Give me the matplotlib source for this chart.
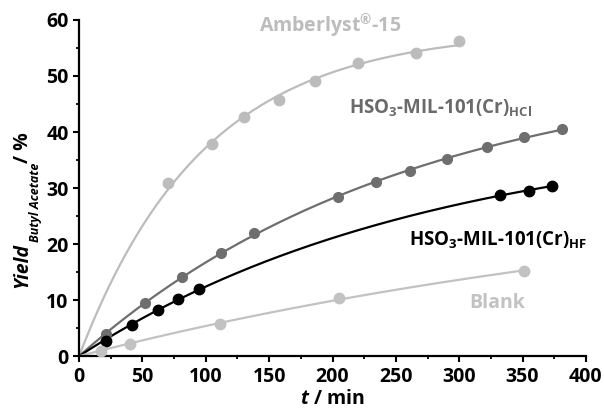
import numpy as np
import matplotlib.pyplot as plt
from matplotlib.ticker import MultipleLocator

plt.rcParams['font.family'] = ['Open Sans', 'DejaVu Sans']
plt.rcParams['font.weight'] = 'bold'
plt.rcParams['axes.labelweight'] = 'bold'
plt.rcParams['mathtext.fontset'] = 'custom'
plt.rcParams['mathtext.rm'] = 'Open Sans:bold'
plt.rcParams['mathtext.bf'] = 'Open Sans:bold'
plt.rcParams['mathtext.it'] = 'Open Sans:italic:bold'

# Data (time in min, yield in %)
t_amb = [70, 105, 130, 158, 186, 220, 266, 300]
y_amb = [30.9, 37.9, 42.7, 45.7, 49.1, 52.3, 54.1, 56.3]

t_hcl = [21, 52, 81, 112, 138, 204, 234, 261, 290, 322, 351, 381]
y_hcl = [3.9, 9.4, 14.1, 18.4, 22.0, 28.4, 31.0, 33.0, 35.2, 37.3, 39.1, 40.5]

t_hf = [21, 42, 62, 78, 95, 332, 355, 373]
y_hf = [2.7, 5.5, 8.2, 10.2, 12.0, 28.7, 29.5, 30.4]

t_blank = [17, 40, 111, 205, 351]
y_blank = [0.9, 2.1, 5.7, 10.4, 15.2]

c_amb = '#bcbcbc'
c_hcl = '#6e6e6e'
c_hf = '#000000'
c_blank = '#c2c2c2'


# first-order kinetic fit y = A(1 - exp(-k t)) through the origin
def fit_curve(t, y):
    t = np.asarray(t, float)
    y = np.asarray(y, float)
    best = None
    for k in np.logspace(-5, -0.5, 4000):
        f = 1 - np.exp(-k * t)
        A = f.dot(y) / f.dot(f)
        r = np.sum((A * f - y) ** 2)
        if best is None or r < best[0]:
            best = (r, A, k)
    _, A, k = best
    tt = np.linspace(0, t.max(), 300)
    return tt, A * (1 - np.exp(-k * tt))


W, H = 604, 416
fig = plt.figure(figsize=(W / 100, H / 100), dpi=100)
ax = fig.add_axes([0.131, 0.144, 0.839, 0.808])

for t, y, c, ms in [(t_amb, y_amb, c_amb, 7.5), (t_hcl, y_hcl, c_hcl, 7),
                    (t_hf, y_hf, c_hf, 7.5), (t_blank, y_blank, c_blank, 7.5)]:
    tt, yy = fit_curve(t, y)
    ax.plot(tt, yy, color=c, lw=1.6, zorder=2)
    ax.plot(t, y, 'o', color=c, ms=ms, zorder=3)

ax.text(198, 59, r'Amberlyst$^{®}$-15', color=c_amb, fontsize=14, ha='center', va='center')
ax.text(213, 44.3, r'HSO$_3$-MIL-101(Cr)$_{\mathrm{HCl}}$', color='#6a6a6a', fontsize=13.5,
        ha='left', va='center')
ax.text(260, 20.7, r'HSO$_3$-MIL-101(Cr)$_{\mathrm{HF}}$', color='black', fontsize=13.5,
        ha='left', va='center')
ax.text(308, 9.4, 'Blank', color=c_blank, fontsize=14, ha='left', va='center')

ax.set_xlim(0, 400)
ax.set_ylim(0, 60)
ax.xaxis.set_major_locator(MultipleLocator(50))
ax.xaxis.set_minor_locator(MultipleLocator(25))
ax.yaxis.set_major_locator(MultipleLocator(10))
ax.yaxis.set_minor_locator(MultipleLocator(5))
ax.spines['top'].set_visible(False)
ax.spines['right'].set_visible(False)
ax.spines['left'].set_linewidth(1.6)
ax.spines['bottom'].set_linewidth(1.6)
ax.tick_params(which='major', direction='out', length=4, width=1.5, labelsize=14)
ax.tick_params(which='minor', direction='out', length=2.5, width=1.3)

ax.set_xlabel(r'$t$ / min', fontsize=14, fontweight='bold', labelpad=2)

# y label built from pieces so the subscript can be small
fig.text(22 / W, 1 - 288 / H, 'Yield', rotation=90, ha='center', va='bottom',
         fontsize=14, style='italic', weight='bold')
fig.text(35 / W, 1 - 242 / H, 'Butyl Acetate', rotation=90, ha='center', va='bottom',
         fontsize=9, style='italic', weight='bold')
fig.text(23 / W, 1 - 163 / H, '/ %', rotation=90, ha='center', va='bottom',
         fontsize=14, weight='bold')

fig.savefig('out.png', dpi=100)
